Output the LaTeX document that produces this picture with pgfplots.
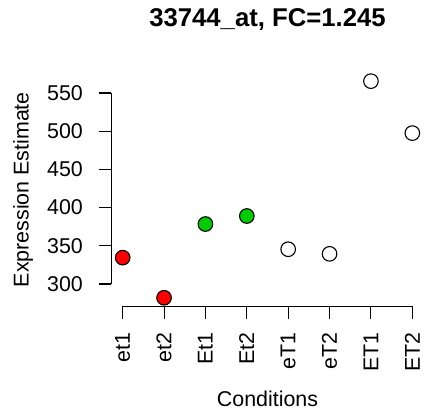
\documentclass[border=0pt]{standalone}
\usepackage{fontspec}
\setmainfont{Liberation Sans}
\usepackage{pgfplots}
\pgfplotsset{compat=1.18}
\definecolor{rred}{RGB}{255,0,0}
\definecolor{rgreen}{RGB}{0,205,0}
\begin{document}
\fontsize{21.4bp}{25bp}\selectfont
\begin{tikzpicture}
\useasboundingbox (-111.1bp,-105.6bp) rectangle (314.9bp,306.4bp);
\begin{axis}[
    scale only axis,
    width=312.8bp, height=233.5bp,
    xmin=0.72, xmax=8.28,
    ymin=270.7, ymax=576.3,
    enlargelimits=false,
    clip=false,
    axis line style={draw=none},
    tick align=outside,
    xtick pos=left, ytick pos=left,
    major tick length=12.5bp,
    tick style={line width=1.1bp, black},
    xtick={1,2,3,4,5,6,7,8},
    xticklabels={et1,et2,Et1,Et2,eT1,eT2,ET1,ET2},
    ytick={300,350,400,450,500,550},
    /pgf/number format/assume math mode=true,
    xticklabel shift=13.5bp,
    yticklabel shift=15.5bp,
    xticklabel style={rotate=90, anchor=east, inner sep=0pt},
    yticklabel style={anchor=east, inner sep=0pt},
    every axis title shift=0pt,
    title={\fontsize{25.7bp}{30bp}\selectfont\bfseries 33744\_at, FC=1.245},
    title style={at={(axis description cs:0.5,1.1979)}, anchor=base, inner sep=0pt},
    xlabel={Conditions},
    xlabel style={at={(axis description cs:0.5,-0.4296)}, anchor=base, inner sep=0pt},
    ylabel={Expression Estimate},
    ylabel style={at={(axis description cs:-0.2813,0.5)}, anchor=center, inner sep=0pt},
    every axis plot/.append style={only marks, mark=*, mark size=7.3bp, line width=1.1bp},
]
% y-axis and x-axis lines, R style (only over the tick range)
\draw[line width=1.1bp] (axis cs:0.72,300) -- (axis cs:0.72,550);
\draw[line width=1.1bp] (axis cs:1,270.7) -- (axis cs:8,270.7);
\addplot[mark options={draw=black, fill=rred}] coordinates {(1,334.5) (2,282)};
\addplot[mark options={draw=black, fill=rgreen}] coordinates {(3,378.5) (4,389)};
\addplot[mark options={draw=black, fill=white}] coordinates {(5,345.5) (6,339.5) (7,565.5) (8,497.5)};
\end{axis}
\end{tikzpicture}
\end{document}
